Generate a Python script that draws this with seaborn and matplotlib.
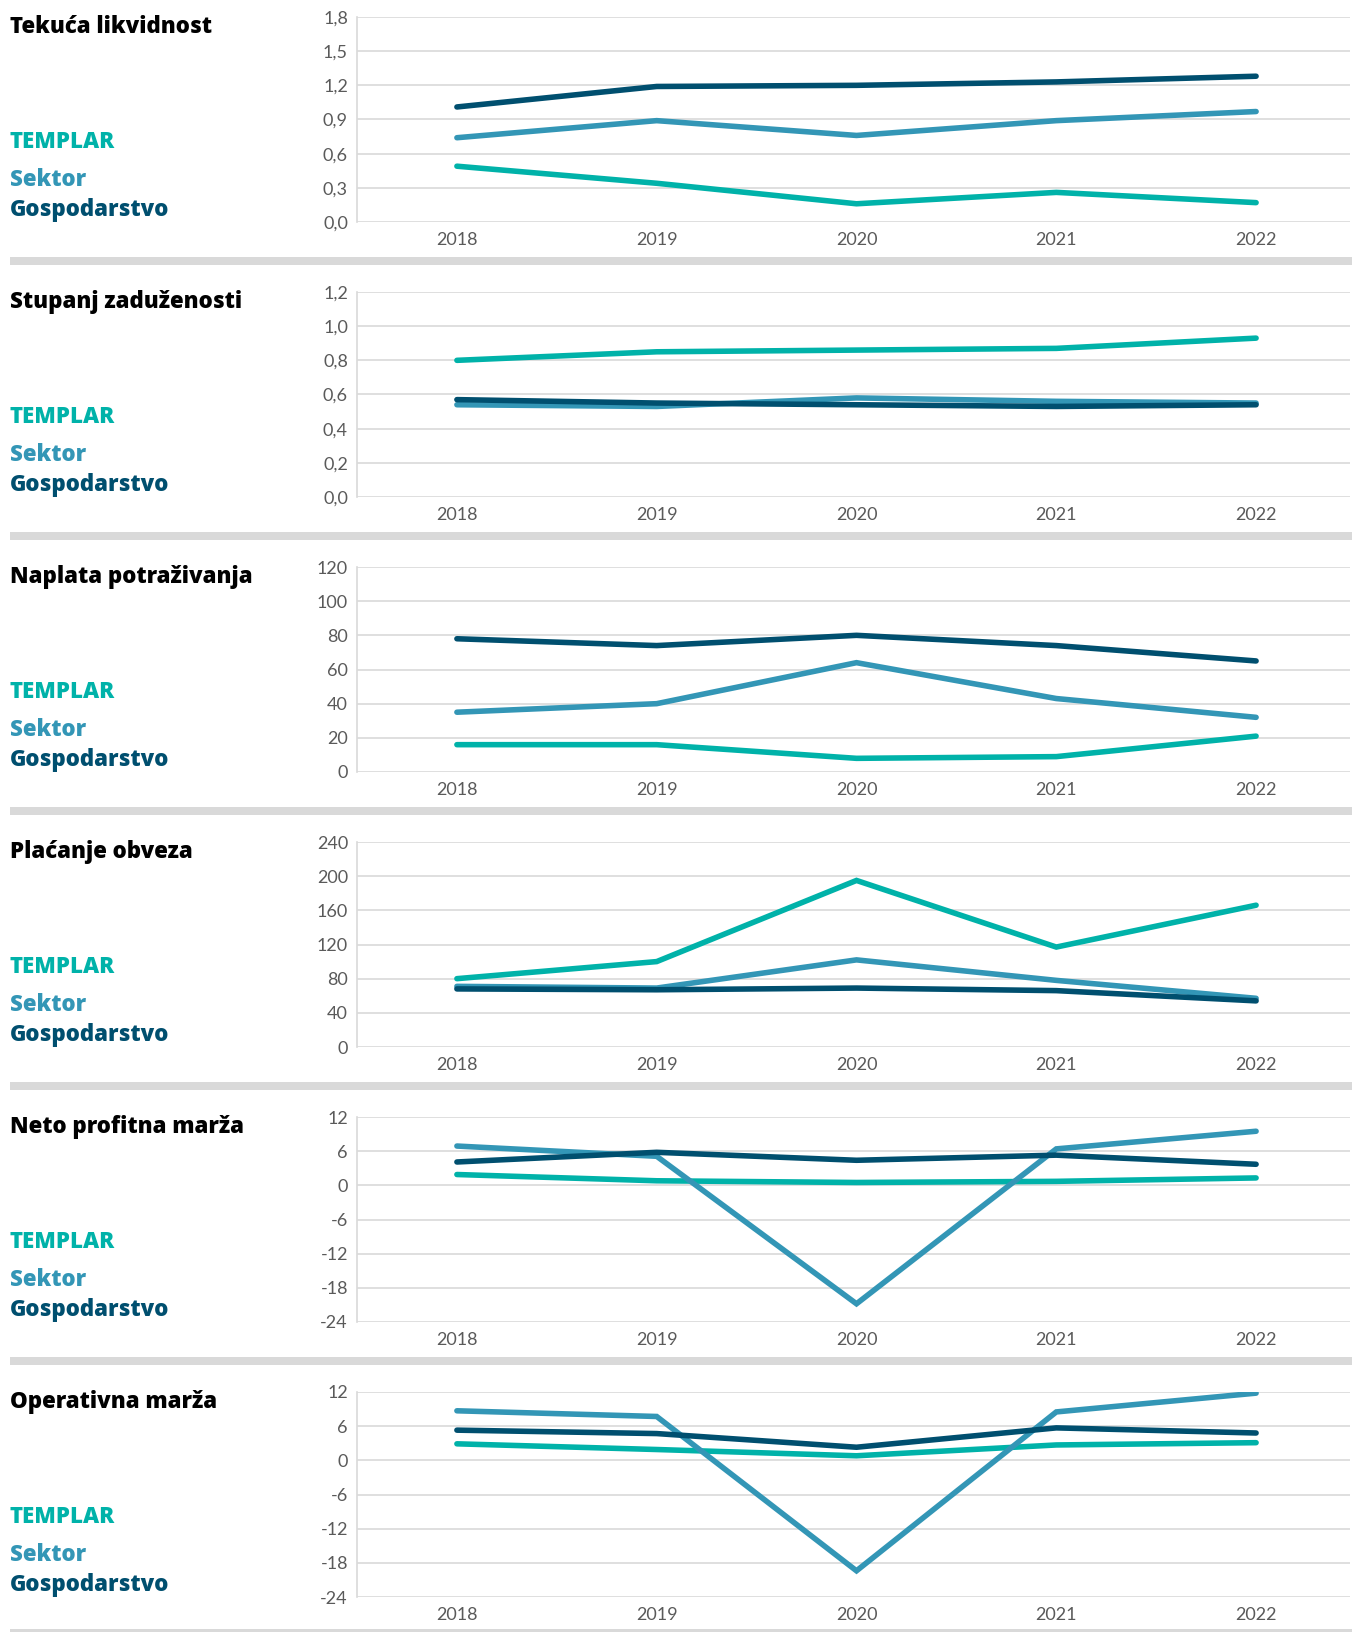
import pandas as pd
import matplotlib.pyplot as plt
import seaborn as sns
from matplotlib.patches import Rectangle

years = [2018, 2019, 2020, 2021, 2022]
series_names = ['TEMPLAR', 'Sektor', 'Gospodarstvo']
colors = {'TEMPLAR': '#00B2A9', 'Sektor': '#3396B6', 'Gospodarstvo': '#004F6F'}

titles = ['Tekuća likvidnost', 'Stupanj zaduženosti', 'Naplata potraživanja',
          'Plaćanje obveza', 'Neto profitna marža', 'Operativna marža']

# TEMPLAR / Sektor / Gospodarstvo per panel
templar = [
    [0.49, 0.34, 0.16, 0.26, 0.17],
    [0.80, 0.85, 0.86, 0.87, 0.93],
    [16, 16, 8, 9, 21],
    [80, 100, 195, 117, 166],
    [1.9, 0.8, 0.5, 0.7, 1.3],
    [2.9, 1.9, 0.8, 2.7, 3.1],
]
sektor = [
    [0.74, 0.89, 0.76, 0.89, 0.97],
    [0.54, 0.53, 0.58, 0.56, 0.55],
    [35, 40, 64, 43, 32],
    [71, 69, 102, 78, 57],
    [6.9, 5.1, -20.8, 6.4, 9.5],
    [8.7, 7.7, -19.4, 8.5, 11.8],
]
gospodarstvo = [
    [1.01, 1.19, 1.20, 1.23, 1.28],
    [0.57, 0.55, 0.54, 0.53, 0.54],
    [78, 74, 80, 74, 65],
    [68, 67, 69, 66, 54],
    [4.1, 5.8, 4.4, 5.3, 3.7],
    [5.3, 4.7, 2.3, 5.7, 4.8],
]
yticks = [
    [0.0, 0.3, 0.6, 0.9, 1.2, 1.5, 1.8],
    [0.0, 0.2, 0.4, 0.6, 0.8, 1.0, 1.2],
    [0, 20, 40, 60, 80, 100, 120],
    [0, 40, 80, 120, 160, 200, 240],
    [-24, -18, -12, -6, 0, 6, 12],
    [-24, -18, -12, -6, 0, 6, 12],
]
decimal_axes = [True, True, False, False, False, False]

W, H = 1352, 1632
fig = plt.figure(figsize=(W / 100, H / 100), dpi=100)
sns.set_style('white')
plt.rcParams['font.family'] = ['Lato', 'DejaVu Sans']

tick_col = '#5a5a5a'
grid_col = '#D9D9D9'
pitch = 275
head_kw = dict(fontsize=16, fontweight='heavy', family=['Open Sans', 'DejaVu Sans'],
               va='baseline', ha='left')

for i in range(6):
    top = 17 + pitch * i
    bottom = 222 + pitch * i
    ax = fig.add_axes([357 / W, 1 - bottom / H, (1350 - 357) / W, (bottom - top) / H])

    df = pd.DataFrame({
        'year': years * 3,
        'value': templar[i] + sektor[i] + gospodarstvo[i],
        'series': ['TEMPLAR'] * 5 + ['Sektor'] * 5 + ['Gospodarstvo'] * 5,
    })
    sns.lineplot(data=df, x='year', y='value', hue='series', hue_order=series_names,
                 palette=colors, linewidth=4, legend=False, ax=ax,
                 solid_capstyle='round', solid_joinstyle='miter')

    yt = yticks[i]
    ax.set_ylim(yt[0], yt[-1])
    ax.set_yticks(yt)
    if decimal_axes[i]:
        ax.set_yticklabels([f'{v:.1f}'.replace('.', ',') for v in yt])
    else:
        ax.set_yticklabels([str(v) for v in yt])
    ax.set_xlim(2017.5, 2022.47)
    ax.set_xticks(years)
    ax.set_xticklabels([str(y) for y in years])
    ax.set_xlabel('')
    ax.set_ylabel('')
    ax.grid(axis='y', color=grid_col, linewidth=1.2)
    ax.grid(axis='x', visible=False)
    ax.set_axisbelow(True)
    for s in ['top', 'right', 'bottom']:
        ax.spines[s].set_visible(False)
    ax.spines['left'].set_color(grid_col)
    ax.spines['left'].set_linewidth(1.2)
    ax.tick_params(axis='both', length=0, labelsize=13, labelcolor=tick_col)
    ax.tick_params(axis='y', pad=6.5)
    ax.tick_params(axis='x', pad=7)

    # panel title and series labels
    fig.text(10 / W, 1 - (top + 16) / H, titles[i], color='black', **head_kw)
    fig.text(10 / W, 1 - (top + 131) / H, 'TEMPLAR', color=colors['TEMPLAR'], **head_kw)
    fig.text(10 / W, 1 - (top + 169) / H, 'Sektor', color=colors['Sektor'], **head_kw)
    fig.text(10 / W, 1 - (top + 199) / H, 'Gospodarstvo', color=colors['Gospodarstvo'], **head_kw)

    # gray separator under each panel (last one sits on the bottom edge)
    sep_y = min(261 + pitch * i, 1633)
    fig.add_artist(Rectangle((10 / W, 1 - (sep_y + 4) / H), 1 - 10 / W, 8 / H,
                             transform=fig.transFigure, color=grid_col, lw=0))

fig.savefig('out.png', dpi=100)
